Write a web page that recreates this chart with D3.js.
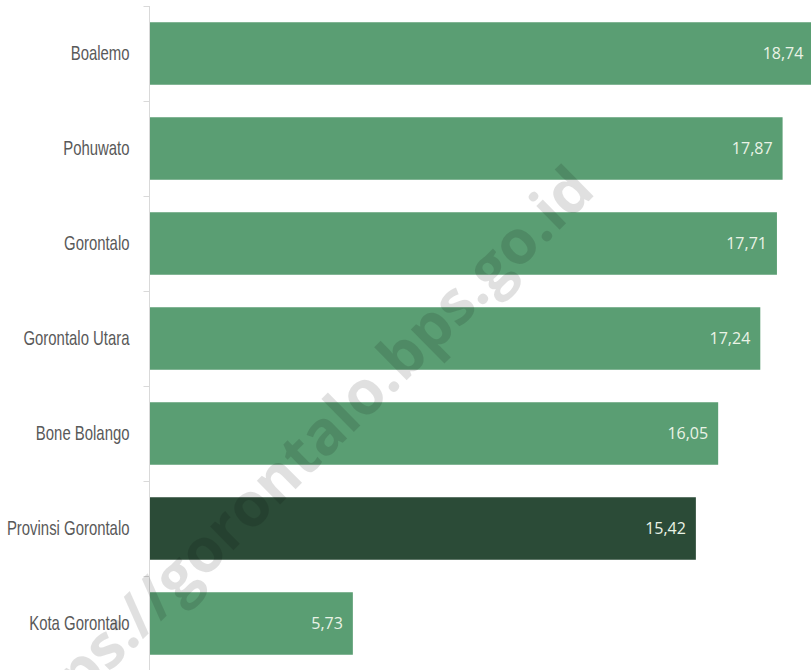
<!DOCTYPE html>
<html>
<head>
<meta charset="utf-8">
<script src="https://cdn.jsdelivr.net/npm/d3@7"></script>
<style>
  body { margin: 0; background: #fff; }
  svg { display: block; }
</style>
</head>
<body>
<script>
var width = 811,
    height = 670;

var regions = ["Boalemo", "Pohuwato", "Gorontalo", "Gorontalo Utara", "Bone Bolango", "Provinsi Gorontalo", "Kota Gorontalo"];
var values = [18.74, 17.87, 17.71, 17.24, 16.05, 15.42, 5.73];
var highlight = "Provinsi Gorontalo";
var watermark = "https://gorontalo.bps.go.id";

var data = regions.map(function(r, i) { return {region: r, value: values[i]}; });

var svg = d3.select("body")
    .append("svg")
        .attr("width", width)
        .attr("height", height);

var x = d3.scaleLinear()
    .domain([0, 20])
    .range([150, 858]);

var y = d3.scaleBand()
    .domain(regions)
    .range([6, 671])
    .paddingInner(0.342)
    .paddingOuter(0.171);

// bars
svg.append("g")
    .selectAll("rect")
    .data(data)
    .enter()
    .append("rect")
        .attr("x", x(0))
        .attr("y", function(d) { return y(d.region); })
        .attr("width", function(d) { return x(d.value) - x(0); })
        .attr("height", y.bandwidth())
        .style("fill", function(d) { return d.region === highlight ? "#2b4b37" : "#5a9e73"; });

// value labels
svg.append("g")
    .selectAll("text")
    .data(data)
    .enter()
    .append("text")
        .attr("x", function(d) { return x(d.value) - 10; })
        .attr("y", function(d) { return y(d.region) + y.bandwidth() / 2; })
        .attr("dy", "0.35em")
        .attr("text-anchor", "end")
        .style("font-family", "'Open Sans', sans-serif")
        .style("font-size", "16px")
        .style("fill", "#eaf3e6")
        .text(function(d) { return d.value.toFixed(2).replace(".", ","); });

// category axis (labels squeezed to look like a condensed face)
var squeeze = 0.71;
var yAxis = svg.append("g")
    .attr("transform", "translate(149.5,0)")
    .call(d3.axisLeft(y).tickSize(0).tickPadding(20));

yAxis.select(".domain").remove();
yAxis.selectAll("text")
    .attr("x", -20 / squeeze)
    .attr("transform", "scale(" + squeeze + ",1)")
    .style("font-family", "'Liberation Sans', Arial, sans-serif")
    .style("font-size", "21px")
    .style("fill", "#595959");

yAxis.append("line")
    .attr("y1", 6)
    .attr("y2", height)
    .attr("stroke", "#d9d9d9");

// ticks between categories
var bounds = d3.range(regions.length + 1).map(function(i) { return y.range()[0] + i * y.step(); });
yAxis.selectAll(".bound")
    .data(bounds)
    .enter()
    .append("line")
        .attr("class", "bound")
        .attr("x1", -6)
        .attr("x2", 0)
        .attr("y1", function(d) { return Math.round(d) + 0.5; })
        .attr("y2", function(d) { return Math.round(d) + 0.5; })
        .attr("stroke", "#d9d9d9");

// watermark
svg.append("text")
    .attr("transform", "translate(597,193) rotate(-44.5)")
    .attr("text-anchor", "end")
    .style("font-family", "'Open Sans', sans-serif")
    .style("font-weight", "bold")
    .style("font-size", "61px")
    .style("fill", "#000")
    .style("fill-opacity", 0.12)
    .text(watermark);
</script>
</body>
</html>
